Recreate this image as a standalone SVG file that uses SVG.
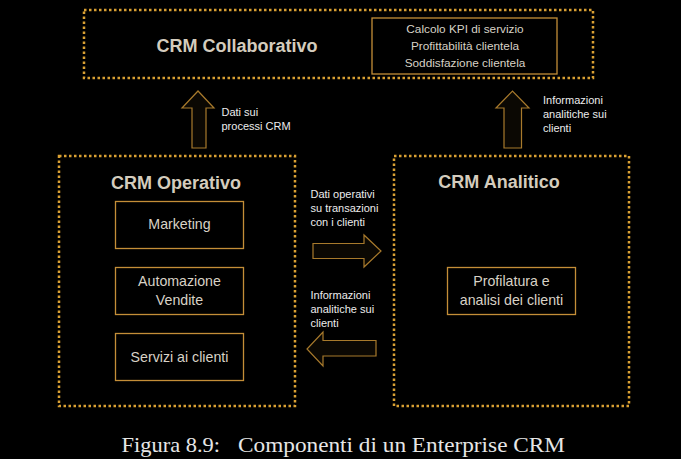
<svg xmlns="http://www.w3.org/2000/svg" width="681" height="459" viewBox="0 0 681 459">
<style>
.dot{fill:none;stroke:#d9a033;stroke-width:2.5;stroke-dasharray:2.5 2.5}
.box{fill:none;stroke:#c48e38;stroke-width:1.3}
.arr{fill:#0b0803;stroke:#a87a2c;stroke-width:1.2}
.title{font-family:"Liberation Sans",Arial,sans-serif;font-weight:bold;font-size:18px;fill:#d4ccbd;text-anchor:middle}
.in{font-family:"Liberation Sans",Arial,sans-serif;font-size:14.2px;fill:#d8d2c6;text-anchor:middle}
.sm{font-family:"Liberation Sans",Arial,sans-serif;font-size:11.8px;fill:#d8d2c6;text-anchor:middle}
.lbl{font-family:"Liberation Sans",Arial,sans-serif;font-size:11px;fill:#ececec}
.cap{font-family:"Liberation Serif","Times New Roman",serif;font-size:21px;fill:#e6e6e6}
</style>
<rect width="681" height="459" fill="#000"/>
<g id="collaborativo">
<rect class="dot" x="84" y="10" width="509" height="68"/>
<text class="title" x="237" y="52">CRM Collaborativo</text>
<rect class="box" x="372" y="18" width="185" height="56"/>
<text class="sm" x="465" y="33">Calcolo KPI di servizio</text>
<text class="sm" x="465" y="50">Profittabilità clientela</text>
<text class="sm" x="465" y="67">Soddisfazione clientela</text>
</g>
<g id="operativo">
<rect class="dot" x="59" y="156" width="236" height="250"/>
<text class="title" x="176" y="189">CRM Operativo</text>
<rect class="box" x="115.5" y="201.5" width="128" height="47"/>
<text class="in" x="179.5" y="229">Marketing</text>
<rect class="box" x="115.5" y="267.5" width="128" height="47"/>
<text class="in" x="179.5" y="286">Automazione</text>
<text class="in" x="179.5" y="305">Vendite</text>
<rect class="box" x="115.5" y="333.5" width="128" height="47"/>
<text class="in" x="179.5" y="362">Servizi ai clienti</text>
</g>
<g id="analitico">
<rect class="dot" x="394" y="156" width="235" height="250"/>
<text class="title" x="499" y="188">CRM Analitico</text>
<rect class="box" x="447.5" y="267.5" width="128" height="47"/>
<text class="in" x="511.5" y="286">Profilatura e</text>
<text class="in" x="511.5" y="305">analisi dei clienti</text>
</g>
<g id="connectors">
<polygon class="arr" points="192,148 192,108 182,108 198,91 214,108 206,108 206,148"/>
<polygon class="arr" points="504,148 504,108 496,108 512.5,91 529,108 521.5,108 521.5,148"/>
<polygon class="arr" points="313,243.5 364,243.5 364,235 381,251 364,267 364,258.5 313,258.5"/>
<polygon class="arr" points="376,340.5 323,340.5 323,332 307,349 323,366 323,356 376,356"/>
<text class="lbl" x="221.5" y="116">Dati sui</text>
<text class="lbl" x="221.5" y="130">processi CRM</text>
<text class="lbl" x="543" y="104">Informazioni</text>
<text class="lbl" x="543" y="118">analitiche sui</text>
<text class="lbl" x="543" y="132">clienti</text>
<text class="lbl" x="310.5" y="198">Dati operativi</text>
<text class="lbl" x="310.5" y="212">su transazioni</text>
<text class="lbl" x="310.5" y="226">con i clienti</text>
<text class="lbl" x="310.5" y="299">Informazioni</text>
<text class="lbl" x="310.5" y="313">analitiche sui</text>
<text class="lbl" x="310.5" y="327">clienti</text>
</g>
<g id="caption">
<text class="cap" x="121.5" y="452" textLength="98.5" lengthAdjust="spacingAndGlyphs">Figura 8.9:</text>
<text class="cap" x="238" y="452" textLength="327" lengthAdjust="spacingAndGlyphs">Componenti di un Enterprise CRM</text>
</g>
</svg>
